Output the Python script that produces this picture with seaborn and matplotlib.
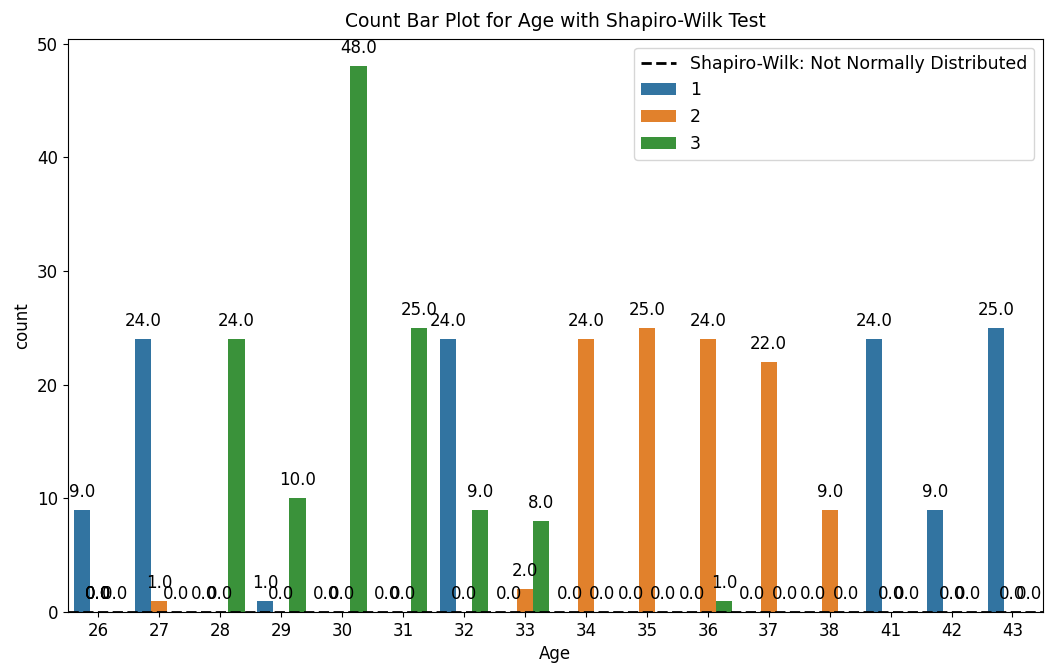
import pandas as pd
import matplotlib
matplotlib.use("Agg")
import matplotlib.pyplot as plt
import seaborn as sns

# counts, one list per hue group
ages = ["26", "27", "28", "29", "30", "31", "32", "33", "34", "35", "36", "37", "38", "41", "42", "43"]
group_1 = [9, 24, 0, 1, 0, 0, 24, 0, 0, 0, 0, 0, 0, 24, 9, 25]
group_2 = [0, 1, 0, 0, 0, 0, 0, 2, 24, 25, 24, 22, 9, 0, 0, 0]
group_3 = [0, 0, 24, 10, 48, 25, 9, 8, 0, 0, 1, 0, 0, 0, 0, 0]
groups = ["1", "2", "3"]

rows = []
for g, vals in zip(groups, [group_1, group_2, group_3]):
    for a, v in zip(ages, vals):
        rows.append({"Age": a, "group": g, "count": v})
df = pd.DataFrame(rows)

fig = plt.figure(figsize=(10.45, 6.67), dpi=100)
ax = plt.gca()

sns.barplot(data=df, x="Age", y="count", hue="group", order=ages, hue_order=groups, ax=ax)

# label every bar, zeros included
for p in ax.patches:
    h = p.get_height()
    ax.annotate(f"{h:.1f}", (p.get_x() + p.get_width() / 2., h),
                ha="center", va="center", xytext=(0, 13), textcoords="offset points",
                fontsize=12)

ax.axhline(0, color="black", linestyle="--", linewidth=2, label="Shapiro-Wilk: Not Normally Distributed")

# dashed line first in the legend, then the groups
handles, labels = ax.get_legend_handles_labels()
line_idx = labels.index("Shapiro-Wilk: Not Normally Distributed")
order = [line_idx] + [i for i in range(len(labels)) if i != line_idx]
ax.legend([handles[i] for i in order], [labels[i] for i in order], loc="upper right", fontsize=12.5)

plt.title("Count Bar Plot for Age with Shapiro-Wilk Test", fontsize=13.5, pad=9)
plt.xlabel("Age", fontsize=12)
plt.ylabel("count", fontsize=12)
ax.tick_params(labelsize=12)

plt.subplots_adjust(left=0.065, right=0.998, top=0.9415, bottom=0.0825)
plt.savefig("out.png", dpi=100)
